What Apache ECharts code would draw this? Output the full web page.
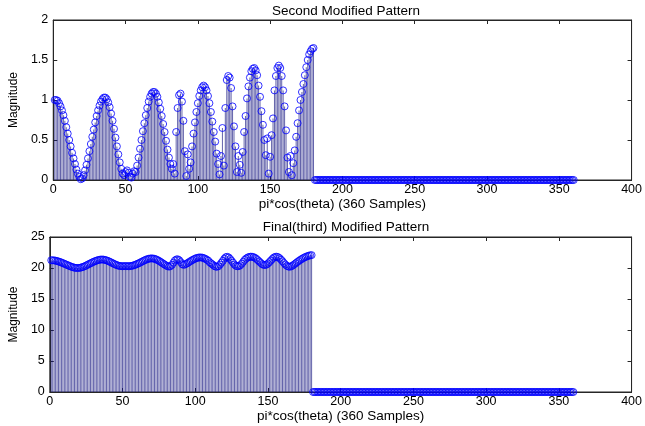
<!DOCTYPE html>
<html>
<head>
<meta charset="utf-8">
<script src="https://cdn.jsdelivr.net/npm/echarts@6/dist/echarts.min.js"></script>
<style>html,body{margin:0;padding:0;background:#fff;}#c{width:645px;height:426px;}</style>
</head>
<body>
<div id="c"></div>
<script>
// Top subplot: "Second Modified Pattern", samples 1..180
const secondPattern = [
1.00,1.00,0.99,0.96,0.92,0.87,0.81,0.74,0.66,0.58,
0.50,0.42,0.34,0.27,0.20,0.13,0.08,0.04,0.01,0.02,
0.06,0.12,0.19,0.27,0.36,0.45,0.54,0.63,0.72,0.80,
0.87,0.93,0.98,1.01,1.03,1.03,1.01,0.97,0.91,0.83,
0.74,0.64,0.53,0.42,0.32,0.22,0.14,0.08,0.06,0.10,
0.12,0.09,0.04,0.03,0.08,0.11,0.10,0.18,0.28,0.39,
0.50,0.61,0.71,0.81,0.90,0.98,1.04,1.08,1.10,1.10,
1.08,1.04,0.97,0.89,0.80,0.70,0.60,0.49,0.38,0.28,
0.20,0.14,0.20,0.08,0.60,0.90,1.06,1.08,0.98,0.74,
0.36,0.05,0.32,0.14,0.22,0.42,0.58,0.72,0.85,0.96,
1.05,1.12,1.16,1.18,1.16,1.12,1.05,0.96,0.85,0.73,
0.60,0.48,0.33,0.20,0.07,0.30,0.65,0.18,0.90,1.25,
1.30,1.28,1.15,0.92,0.67,0.42,0.10,0.30,0.19,0.09,
0.35,0.60,0.80,1.02,1.17,1.28,1.36,1.39,1.40,1.37,
1.31,1.18,1.04,0.86,0.69,0.50,0.31,0.52,0.08,0.29,
0.56,0.77,1.12,1.30,1.40,1.43,1.40,1.30,1.12,0.92,
0.62,0.28,0.10,0.30,0.06,0.21,0.37,0.54,0.71,0.87,
1.00,1.10,1.20,1.31,1.41,1.50,1.57,1.61,1.64,1.65
];
// Bottom subplot: "Final(third) Modified Pattern", samples 1..180
const finalPattern = [
21.25,21.25,21.22,21.18,21.12,21.05,20.97,20.88,20.78,20.68,
20.58,20.48,20.38,20.28,20.19,20.11,20.05,20.01,20.00,20.01,
20.05,20.11,20.19,20.28,20.40,20.52,20.64,20.76,20.88,20.99,
21.09,21.18,21.26,21.32,21.36,21.37,21.35,21.30,21.23,21.14,
21.03,20.92,20.80,20.68,20.57,20.47,20.39,20.33,20.30,20.29,
20.30,20.31,20.30,20.29,20.30,20.33,20.38,20.45,20.54,20.64,
20.75,20.86,20.98,21.10,21.22,21.33,21.42,21.49,21.53,21.55,
21.53,21.48,21.40,21.29,21.16,21.01,20.86,20.70,20.55,20.40,
20.28,20.22,20.30,20.50,20.85,21.20,21.38,21.40,21.25,20.95,
20.62,20.50,20.58,20.70,20.84,20.99,21.14,21.28,21.40,21.52,
21.61,21.67,21.70,21.70,21.66,21.58,21.47,21.33,21.17,20.90,
20.72,20.55,20.35,20.22,20.20,20.30,20.55,20.85,21.15,21.50,
21.75,21.80,21.70,21.45,21.15,20.85,20.55,20.35,20.28,20.30,
20.45,20.70,21.00,21.30,21.52,21.68,21.78,21.82,21.82,21.76,
21.65,21.48,21.27,21.05,20.82,20.62,20.50,20.48,20.55,20.72,
20.95,21.20,21.45,21.68,21.80,21.82,21.75,21.58,21.35,21.08,
20.80,20.55,20.35,20.23,20.20,20.27,20.40,20.57,20.75,20.93,
21.10,21.27,21.42,21.56,21.69,21.80,21.90,21.98,22.04,22.08
];
// Samples 181..360 are zero in both subplots
const zeroTail = [
0,0,0,0,0,0,0,0,0,0,0,0,0,0,0,0,0,0,0,0,
0,0,0,0,0,0,0,0,0,0,0,0,0,0,0,0,0,0,0,0,
0,0,0,0,0,0,0,0,0,0,0,0,0,0,0,0,0,0,0,0,
0,0,0,0,0,0,0,0,0,0,0,0,0,0,0,0,0,0,0,0,
0,0,0,0,0,0,0,0,0,0,0,0,0,0,0,0,0,0,0,0,
0,0,0,0,0,0,0,0,0,0,0,0,0,0,0,0,0,0,0,0,
0,0,0,0,0,0,0,0,0,0,0,0,0,0,0,0,0,0,0,0,
0,0,0,0,0,0,0,0,0,0,0,0,0,0,0,0,0,0,0,0,
0,0,0,0,0,0,0,0,0,0,0,0,0,0,0,0,0,0,0,0
];
const titles = ['Second Modified Pattern', 'Final(third) Modified Pattern'];
const xName = 'pi*cos(theta) (360 Samples)';
const yName = 'Magnitude';
const xTicks = {min: 0, max: 400, interval: 50};
const yTicksTop = {min: 0, max: 2, interval: 0.5};
const yTicksBottom = {min: 0, max: 25, interval: 5};

function toPairs(vals) {
  const all = vals.concat(zeroTail);
  return all.map((v, i) => [i + 1, v]);
}
const topData = toPairs(secondPattern);
const botData = toPairs(finalPattern);

const FONT = 'Liberation Sans';
const axisColor = '#262626';
const grids = [
  {left: 49, right: 11, top: 20, height: 160, show: true, borderColor: axisColor, borderWidth: 1, backgroundColor: 'transparent'},
  {left: 49, right: 11, top: 237, height: 155, show: true, borderColor: axisColor, borderWidth: 1, backgroundColor: 'transparent'}
];
function xAx(gi, pos, showLabel) {
  return {
    type: 'value', gridIndex: gi, position: pos,
    min: xTicks.min, max: xTicks.max, interval: xTicks.interval,
    name: showLabel ? xName : '', nameLocation: 'middle', nameGap: 8,
    nameTextStyle: {fontFamily: FONT, fontSize: 13.5, color: '#000'},
    axisLine: {show: true, onZero: false, lineStyle: {color: axisColor, width: 1}},
    axisTick: {show: true, inside: true, length: 4, lineStyle: {color: axisColor}},
    axisLabel: {show: showLabel, fontFamily: FONT, fontSize: 12.5, color: '#000', margin: 3},
    splitLine: {show: false}
  };
}
function yAx(gi, pos, t, showLabel) {
  return {
    type: 'value', gridIndex: gi, position: pos,
    min: t.min, max: t.max, interval: t.interval,
    name: showLabel ? yName : '', nameLocation: 'middle', nameGap: 28, nameRotate: 90,
    nameTextStyle: {fontFamily: FONT, fontSize: 12, color: '#000'},
    axisLine: {show: true, onZero: false, lineStyle: {color: axisColor, width: 1}},
    axisTick: {show: true, inside: true, length: 4, lineStyle: {color: axisColor}},
    axisLabel: {show: showLabel, fontFamily: FONT, fontSize: 12.5, color: '#000', margin: 5},
    splitLine: {show: false}
  };
}
function stems(xi, yi, data) {
  return [
    {type: 'bar', xAxisIndex: xi, yAxisIndex: yi, data: data, barWidth: 1,
     itemStyle: {color: 'rgba(25,25,130,0.68)'}, silent: true, animation: false},
    {type: 'scatter', xAxisIndex: xi, yAxisIndex: yi, data: data,
     symbol: 'circle', symbolSize: 7,
     itemStyle: {color: 'rgba(0,0,0,0)', borderColor: '#0000ff', borderWidth: 1},
     silent: true, animation: false}
  ];
}
const chart = echarts.init(document.getElementById('c'), null, {renderer: 'canvas'});
chart.setOption({
  backgroundColor: '#fff',
  animation: false,
  title: [
    {text: titles[0], left: 341, top: -1, textAlign: 'center',
     textStyle: {fontFamily: FONT, fontSize: 13.5, fontWeight: 'normal', color: '#000'}},
    {text: titles[1], left: 341, top: 215, textAlign: 'center',
     textStyle: {fontFamily: FONT, fontSize: 13.5, fontWeight: 'normal', color: '#000'}}
  ],
  grid: grids,
  xAxis: [xAx(0, 'bottom', true), xAx(0, 'top', false), xAx(1, 'bottom', true), xAx(1, 'top', false)],
  yAxis: [yAx(0, 'left', yTicksTop, true), yAx(0, 'right', yTicksTop, false),
          yAx(1, 'left', yTicksBottom, true), yAx(1, 'right', yTicksBottom, false)],
  series: [].concat(stems(0, 0, topData), stems(2, 2, botData))
});
</script>
</body>
</html>
